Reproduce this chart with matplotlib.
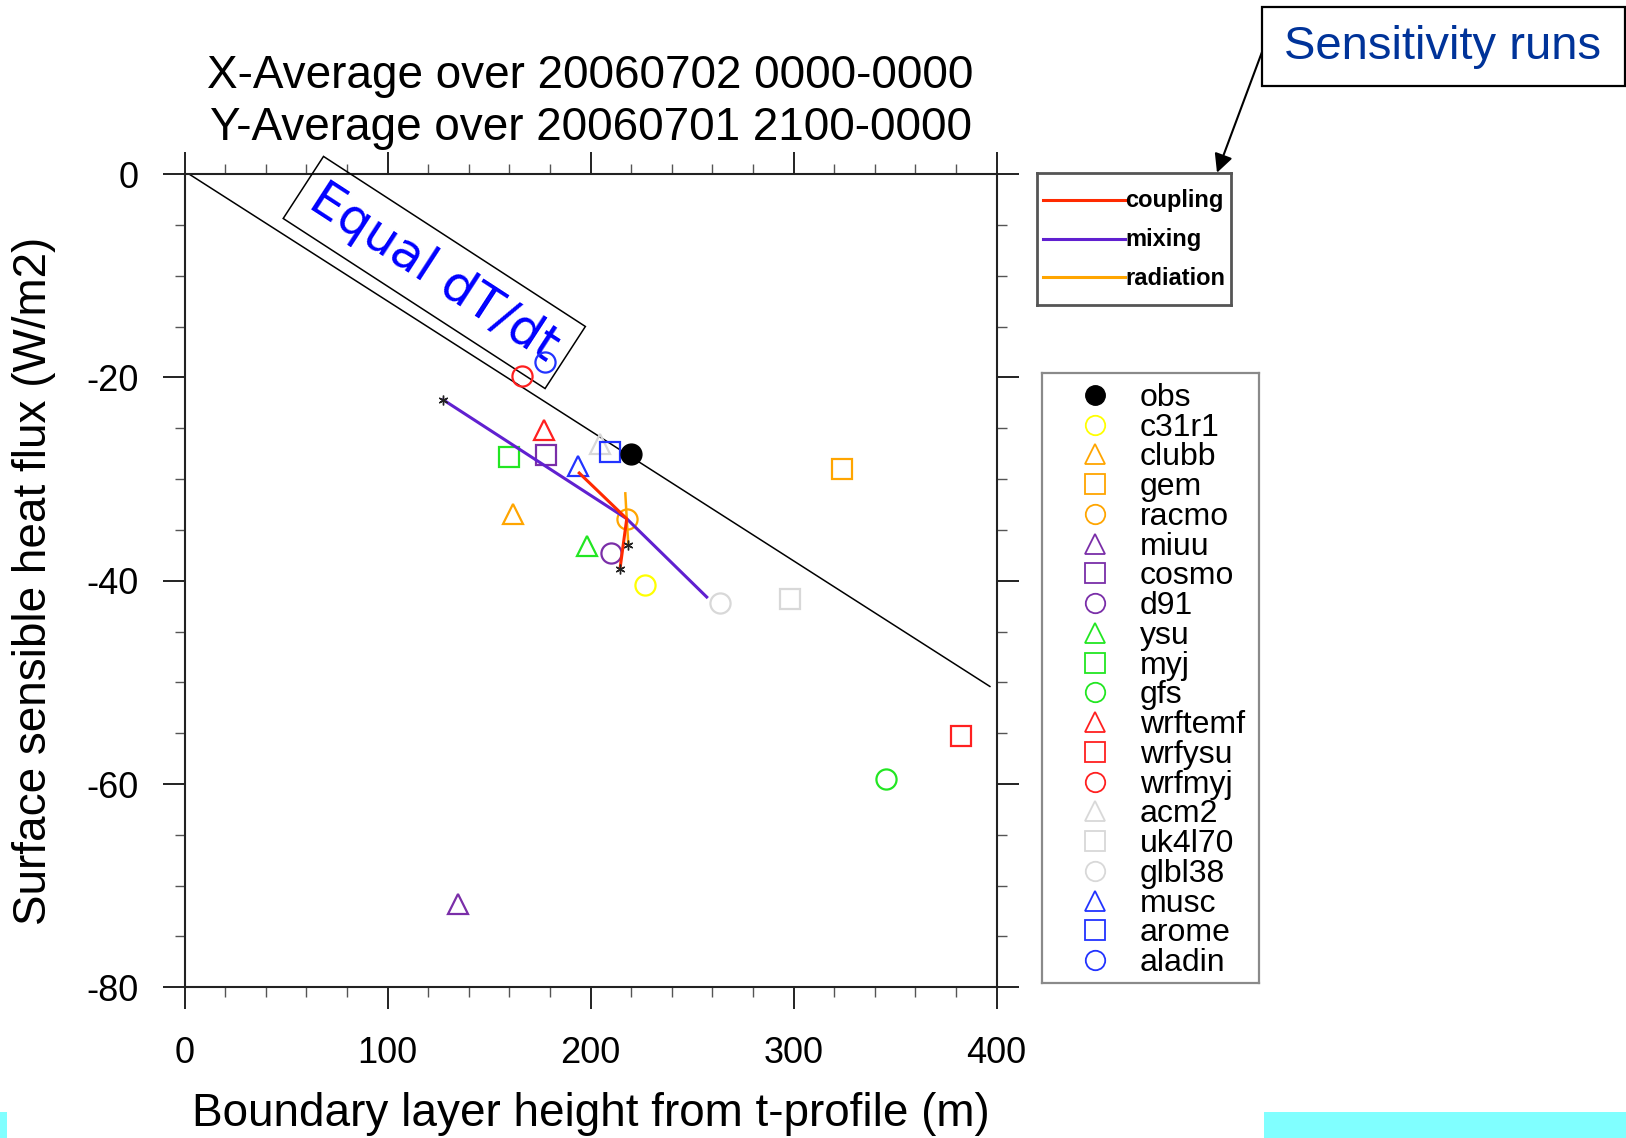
import matplotlib
matplotlib.use("Agg")
import matplotlib.pyplot as plt
from matplotlib.ticker import MultipleLocator
from matplotlib.patches import Rectangle

plt.rcParams['font.family'] = ['Liberation Sans', 'DejaVu Sans']
plt.rcParams['axes.unicode_minus'] = False

# ---- data
models = ['obs', 'c31r1', 'clubb', 'gem', 'racmo', 'miuu', 'cosmo', 'd91', 'ysu', 'myj',
          'gfs', 'wrftemf', 'wrfysu', 'wrfmyj', 'acm2', 'uk4l70', 'glbl38', 'musc', 'arome', 'aladin']
pbl_height = [219.8, 226.8, 161.6, 324.0, 217.8, 134.9, 178.0, 209.9, 198.4, 160.0,
              345.3, 177.0, 382.6, 166.1, 204.6, 298.3, 263.7, 193.6, 209.6, 177.5]
sh_flux = [-27.5, -40.4, -33.4, -29.0, -33.9, -71.8, -27.6, -37.3, -36.6, -27.8,
           -59.5, -25.2, -55.3, -19.9, -26.5, -41.8, -42.2, -28.7, -27.3, -18.5]

# sensitivity runs (low, control, high)
coupling_x = [194.4, 217.8, 214.5]
coupling_y = [-29.4, -33.9, -38.8]
mixing_x = [127.4, 217.8, 257.2]
mixing_y = [-22.2, -33.9, -41.6]
radiation_x = [217.1, 217.8, 218.6]
radiation_y = [-31.4, -33.9, -36.5]

# equal dT/dt line
eq_x = [2.3, 396.7]
eq_y = [0.0, -50.4]

xticks = [0, 100, 200, 300, 400]
yticks = [0, -20, -40, -60, -80]

# ---- styles
orange = '#ffa500'
purple = '#7a2ea8'
green = '#22e622'
red = '#ff2020'
gray = '#d8d8d8'
blue = '#2233ff'
m_colors = ['black', '#ffff00', orange, orange, orange, purple, purple, purple, green, green,
            green, red, red, red, gray, gray, gray, blue, blue, blue]
m_shapes = ['o', 'o', '^', 's', 'o', '^', 's', 'o', '^', 's',
            'o', '^', 's', 'o', '^', 's', 'o', '^', 's', 'o']
sens_colors = {'coupling': '#ff2a00', 'mixing': '#6020d0', 'radiation': orange}

W, H = 1626, 1138
fig = plt.figure(figsize=(W / 100, H / 100), dpi=100)

def frac(x0, y0, x1, y1):
    # pixel box (top-left origin) -> figure fraction rect
    return [x0 / W, 1 - y1 / H, (x1 - x0) / W, (y1 - y0) / H]

ax = fig.add_axes(frac(184.6, 174.2, 996.6, 987.3))
ax.set_xlim(0, 400)
ax.set_ylim(-80, 0)
ax.set_xticks(xticks)
ax.set_yticks(yticks)
ax.set_xticklabels([str(v) for v in xticks])
ax.set_yticklabels([str(v) for v in yticks])
ax.xaxis.set_minor_locator(MultipleLocator(20))
ax.yaxis.set_minor_locator(MultipleLocator(5))
ax.tick_params(which='both', direction='out', top=True, right=True, labelsize=26, color='#222222')
ax.tick_params(which='major', length=15.8, width=1.4)
ax.tick_params(axis='x', which='major', pad=19)
ax.tick_params(axis='y', which='major', pad=17)
ax.tick_params(which='minor', length=7.2, width=1.0, color='#555555')
for sp in ax.spines.values():
    sp.set_linewidth(1.5)
    sp.set_color('#222222')

ax.set_xlabel('Boundary layer height from t-profile (m)', fontsize=33, va='center')
ax.set_ylabel('Surface sensible heat flux (W/m2)', fontsize=33, va='center')
ax.xaxis.set_label_coords(590.6 / W, 1 - 1114 / H, transform=fig.transFigure)
ax.yaxis.set_label_coords(34 / W, 1 - 580.7 / H, transform=fig.transFigure)

fig.text(590.6 / W, 1 - 76 / H, 'X-Average over 20060702 0000-0000', fontsize=33, ha='center', va='center')
fig.text(590.6 / W, 1 - 128 / H, 'Y-Average over 20060701 2100-0000', fontsize=33, ha='center', va='center')

# equal dT/dt line
ax.plot(eq_x, eq_y, color='black', lw=1.1, zorder=2)
ax.text(123, -9.67, 'Equal dT/dt', family='DejaVu Sans', fontsize=36, color='blue',
        rotation=-33, rotation_mode='anchor', ha='center', va='center',
        bbox=dict(boxstyle='square,pad=0.26', fc='none', ec='black', lw=1.1))

# model markers
for name, x, y, c, m in zip(models, pbl_height, sh_flux, m_colors, m_shapes):
    if name == 'obs':
        ax.plot(x, y, marker='o', ms=15, color='black', ls='none', zorder=4)
    else:
        ax.plot(x, y, marker=m, ms=14.5, mfc='none', mec=c, mew=1.6, ls='none', zorder=3)

# sensitivity lines
ax.plot(mixing_x, mixing_y, color=sens_colors['mixing'], lw=2.2, zorder=5)
ax.plot(radiation_x, radiation_y, color=sens_colors['radiation'], lw=1.8, zorder=5)
ax.plot(coupling_x, coupling_y, color=sens_colors['coupling'], lw=2.2, zorder=6)
ax.plot([mixing_x[0], coupling_x[-1], radiation_x[-1]], [mixing_y[0], coupling_y[-1], radiation_y[-1]],
        ls='none', marker=(6, 2, 0), ms=7, mew=1.0, color='#222222', zorder=7)

# legend of sensitivity runs
lx0, ly0, lx1, ly1 = 1037, 173.3, 1231, 305
lax1 = fig.add_axes(frac(lx0, ly0, lx1, ly1))
lax1.set_xlim(lx0, lx1)
lax1.set_ylim(ly1, ly0)
lax1.set_xticks([])
lax1.set_yticks([])
for sp in lax1.spines.values():
    sp.set_linewidth(2.0)
    sp.set_color('#555555')
for i, name in enumerate(['coupling', 'mixing', 'radiation']):
    ry = 200 + i * 38.7
    lax1.plot([1042.7, 1125], [ry, ry], color=sens_colors[name], lw=2.2)
    lax1.text(1125.5, ry + 1, name, fontsize=17, fontweight='bold', ha='left', va='center')

# model legend
gx0, gy0, gx1, gy1 = 1042, 373.3, 1259, 983
lax2 = fig.add_axes(frac(gx0, gy0, gx1, gy1))
lax2.set_xlim(gx0, gx1)
lax2.set_ylim(gy1, gy0)
lax2.set_xticks([])
lax2.set_yticks([])
for sp in lax2.spines.values():
    sp.set_linewidth(1.6)
    sp.set_color('#8a8a8a')
for i, (name, c, m) in enumerate(zip(models, m_colors, m_shapes)):
    ry = 395 + i * 29.74
    if name == 'obs':
        lax2.plot(1095, ry, marker='o', ms=14, color='black')
    else:
        lax2.plot(1095, ry, marker=m, ms=14, mfc='none', mec=c, mew=1.3)
    lax2.text(1140, ry + 3, name, fontsize=23, ha='left', va='center')

# "Sensitivity runs" call-out
fig.patches.append(Rectangle((1262 / W, 1 - 86 / H), (1625 - 1262) / W, (86 - 7) / H,
                             transform=fig.transFigure, fc='white', ec='black', lw=1.6))
fig.text(1443 / W, 1 - 47 / H, 'Sensitivity runs', fontsize=34, color='#003399', ha='center', va='center')
ax.annotate('', xy=(1217 / W, 1 - 172.7 / H), xycoords='figure fraction',
            xytext=(1262 / W, 1 - 52 / H), textcoords='figure fraction',
            arrowprops=dict(arrowstyle='-|>', color='black', lw=1.5, mutation_scale=28,
                            shrinkA=0, shrinkB=0))

# cyan strips at the bottom
fig.patches.append(Rectangle((0, 0), 7 / W, 26 / H, transform=fig.transFigure, fc='#80ffff', ec='none'))
fig.patches.append(Rectangle((1264 / W, 0), (1626 - 1264) / W, 26 / H, transform=fig.transFigure,
                             fc='#80ffff', ec='none'))

fig.savefig('out.png', dpi=100)
